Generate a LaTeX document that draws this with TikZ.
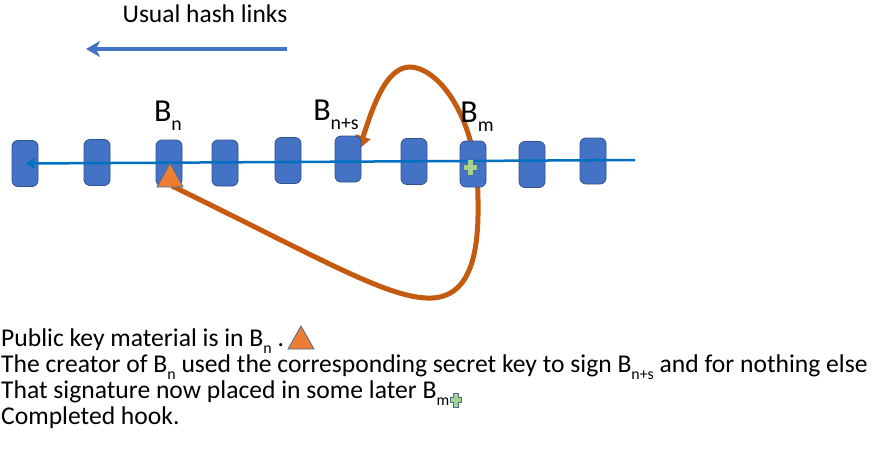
\documentclass[tikz,border=0pt]{standalone}
\usepackage{fontspec}
\setmainfont{Carlito}
\usetikzlibrary{arrows.meta}
\definecolor{blockfill}{HTML}{4472C4}
\definecolor{blockedge}{HTML}{2F528F}
\definecolor{chainblue}{HTML}{0070C0}
\definecolor{hookorange}{HTML}{C55A11}
\definecolor{keyorange}{HTML}{ED7D31}
\definecolor{keyedge}{HTML}{41719C}
\definecolor{siggreen}{HTML}{A9D18E}
\newcommand\lowsub[2][0.62]{\raisebox{-0.28em}{\fontsize{#1em}{#1em}\selectfont #2}}
\begin{document}
\begin{tikzpicture}[x=1pt,y=-1pt,
  block/.style={draw=blockedge,line width=0.8pt,fill=blockfill,rounded corners=6pt,
    minimum width=26pt,minimum height=46pt,inner sep=0pt},
  lbl/.style={font=\fontsize{32}{32}\selectfont,inner sep=0pt},
  body/.style={font=\fontsize{25.6}{24.5}\selectfont,inner sep=0pt,anchor=base west,
    align=left},
  hook/.style={draw=hookorange,line width=5pt},
  keymark/.style={fill=keyorange,draw=keyedge,line width=0.8pt},
  sigmark/.style={fill=siggreen,draw=keyedge,line width=0.7pt}]
\useasboundingbox (0,0) rectangle (875,452);

% heading and direction of the ordinary links
\node[font=\fontsize{25.5}{25.5}\selectfont,inner sep=0pt] (title) at (205,14) {Usual hash links};
\coordinate (hs) at (287,49);
\coordinate (he) at (86,49);
\draw[blockfill,line width=3.5pt,-{Stealth[length=14pt,width=16pt,inset=4pt]}] (hs) -- (he);

% the hook: from the key in B_n round to B_{n+s}, behind the chain
\coordinate (k0) at (172,186);
\coordinate (k1) at (432,298);
\coordinate (k2) at (478,200);
\coordinate (k3) at (410,67);
\coordinate (k4) at (359,149);
\draw[hook,-{Triangle[length=13pt,width=15pt]}] (k0)
  .. controls (320,258) and (390,300) .. (k1)
  .. controls (472,296) and (479,250) .. (k2)
  .. controls (478,120) and (440,68) .. (k3)
  .. controls (385,67) and (372,110) .. (k4);

% the chain of blocks
\node[block] (b1) at (25,163.5) {};
\node[block] (b2) at (97,162.5) {};
\node[block] (b3) at (169,163) {};
\node[block] (b4) at (225,163) {};
\node[block] (b5) at (288,160.5) {};
\node[block] (b6) at (348,159) {};
\node[block] (b7) at (414,161.5) {};
\node[block] (b8) at (473,164) {};
\node[block] (b9) at (532,164.5) {};
\node[block] (b10) at (593,161) {};

% hash chain running right to left
\coordinate (ce) at (635,160);
\draw[chainblue,line width=2.5pt,-{Stealth[length=10pt,width=10pt,inset=2pt]}] (ce) -- (b1.center);

% markers for the key and the signature
\draw[keymark] (157,187) -- (183,187) -- (170,163) -- cycle;
\begin{scope}[shift={(470,167)}]
  \draw[sigmark] (-3,-8) -- (3,-8) -- (3,-3) -- (7,-3) -- (7,3) -- (3,3) -- (3,8)
    -- (-3,8) -- (-3,3) -- (-7,3) -- (-7,-3) -- (-3,-3) -- cycle;
\end{scope}

% block labels
\node[lbl] (ln) at (168,116) {B\lowsub{n}};
\node[lbl] (lns) at (336,115) {B\lowsub{n+s}};
\node[lbl] (lm) at (477,117) {B\lowsub{m}};

% explanation (anchored on the baseline of its last line)
\node[body] (txt) at (1,424.5) {Public key material is in B\lowsub{n} .\\
The creator of B\lowsub{n} used the corresponding secret key to sign B\lowsub{n+s} and for nothing else\\
That signature now placed in some later B\lowsub{m}\\
Completed hook.};
\draw[keymark] (288,349) -- (314,349) -- (301,326) -- cycle;
\begin{scope}[shift={(456,400)}]
  \draw[sigmark] (-2.5,-7) -- (2.5,-7) -- (2.5,-2.5) -- (5.5,-2.5) -- (5.5,2.5) -- (2.5,2.5)
    -- (2.5,7) -- (-2.5,7) -- (-2.5,2.5) -- (-5.5,2.5) -- (-5.5,-2.5) -- (-2.5,-2.5) -- cycle;
\end{scope}
\end{tikzpicture}
\end{document}
